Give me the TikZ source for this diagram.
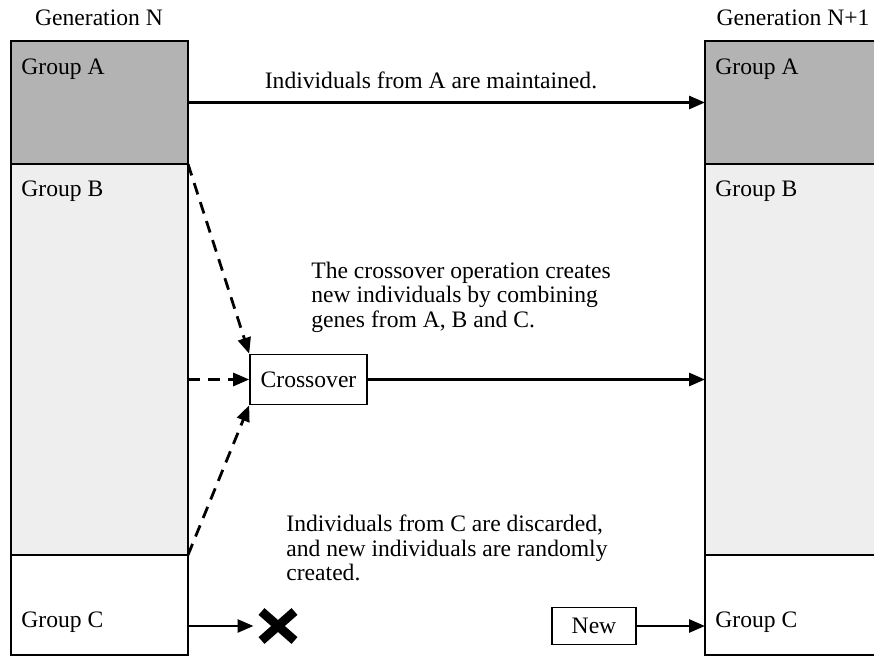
\documentclass[tikz,border=0pt]{standalone}
\usepackage{fontspec}
\setmainfont{Liberation Serif}
\usetikzlibrary{positioning, arrows.meta, shapes.misc}
\definecolor{grpdark}{HTML}{B3B3B3}
\definecolor{grplight}{HTML}{EEEEEE}
\tikzset{
  grp/.style={draw, line width=1pt, minimum width=88.5pt, inner sep=0pt, outer sep=0pt},
  grpa/.style={grp, fill=grpdark, minimum height=61.5pt},
  grpb/.style={grp, fill=grplight, minimum height=195.5pt},
  grpc/.style={grp, fill=white, minimum height=50pt},
  grplbl/.style={anchor=base west, inner sep=0pt},
  op/.style={draw, line width=0.8pt, inner sep=0pt},
  arr/.style={line width=1.4pt, -{Triangle[length=8pt,width=6.5pt]}},
  darr/.style={arr, dash pattern=on 6pt off 4pt},
}

\begin{document}
\begin{tikzpicture}[x=0.5pt, y=-0.5pt, font=\fontsize{11.8}{12.2}\selectfont]
			\useasboundingbox (0,0) rectangle (874,657);
			\node[grpa, anchor=north west]  (aN)  at (11,41)  {};
			\node[grpb, below=0pt of aN]  (bN)  {};
			\node[grpc, below=0pt of bN]  (cN)  {};
			\node[grpa, anchor=north west]  (aM)  at (705,41)  {};
			\node[grpb, below=0pt of aM]  (bM)  {};
			\node[grpc, below=0pt of bM]  (cM)  {};

			\node[anchor=base]  (genN)  at (99,26)  {Generation N};
			\node[anchor=base]  (genM)  at (793,26)  {Generation N+1};
			\node[grplbl]  (aNt)  at (21,75)  {Group A};
			\node[grplbl]  (bNt)  at (21,197)  {Group B};
			\node[grplbl]  (cNt)  at (21,628)  {Group C};
			\node[grplbl]  (aMt)  at (715,75)  {Group A};
			\node[grplbl]  (bMt)  at (715,197)  {Group B};
			\node[grplbl]  (cMt)  at (715,628)  {Group C};

			\node[op, minimum width=58.5pt, minimum height=25pt]  (xover)  at (308.5,379.5)  {Crossover};
			\node[op, minimum width=42pt, minimum height=18.5pt]  (new)  at (594,626)  {New};
			\node[cross out, draw, line width=4.5pt, minimum width=12pt, minimum height=10pt, inner sep=0pt]  (gone)  at (278,626)  {};

			\node[align=left, anchor=west, inner sep=0pt]  (xtxt)  at (311,297)  {The crossover operation creates\\new individuals by combining\\genes from A, B and C.};
			\node[align=left, anchor=west, inner sep=0pt]  (ctxt)  at (286,548)  {Individuals from C are discarded,\\and new individuals are randomly\\created.};

			\draw[arr] (aN) -- node[above=3pt, pos=0.47] (atxt) {Individuals from A are maintained.} (aM) ;
			\draw[darr] (aN.south east) -- (xover.north west) ;
			\draw[darr] (bN.east |- xover) -- (xover) ;
			\draw[darr] (bN.south east) -- (xover.south west) ;
			\draw[arr] (xover) -- (xover -| bM.west) ;
			\draw[arr, shorten >=4pt] (cN.east |- gone) -- (gone) ;
			\draw[arr] (new) -- (new -| cM.west) ;
		\end{tikzpicture}
\end{document}
